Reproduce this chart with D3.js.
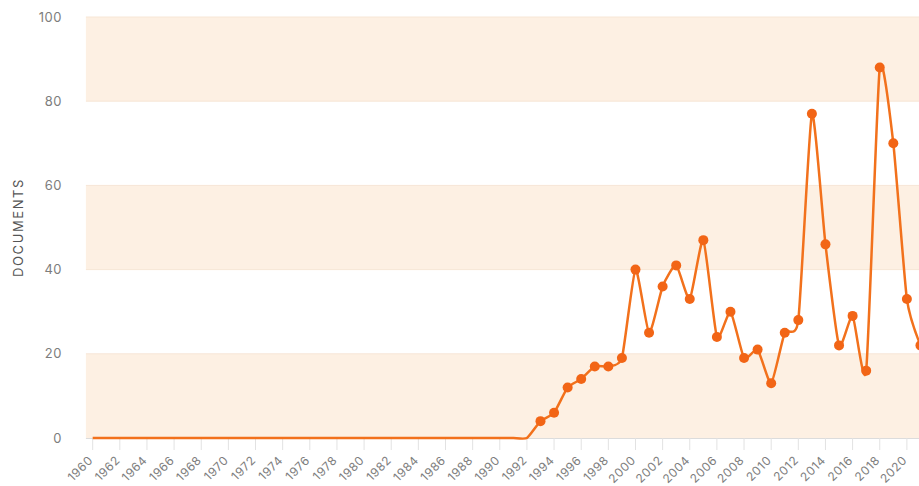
<!DOCTYPE html>
<html>
<head>
<meta charset="utf-8">
<script src="https://cdn.jsdelivr.net/npm/d3@7"></script>
<style>
  html, body { margin: 0; padding: 0; background: #fff; }
  svg { display: block; }
  text { font-family: "Inter", "Open Sans", sans-serif; }
</style>
</head>
<body>
<svg id="chart" width="919" height="486"></svg>
<script>
const years = d3.range(1960, 2022);
const documents = [
  0,0,0,0,0,0,0,0,0,0,      // 1960-1969
  0,0,0,0,0,0,0,0,0,0,      // 1970-1979
  0,0,0,0,0,0,0,0,0,0,      // 1980-1989
  0,0,0,4,6,12,14,17,17,19, // 1990-1999
  40,25,36,41,33,47,24,30,19,21, // 2000-2009
  13,25,28,77,46,22,29,16,88,70, // 2010-2019
  33,22                     // 2020-2021
];
const yTicks = [0, 20, 40, 60, 80, 100];
const xTickYears = d3.range(1960, 2022, 2);
const yLabel = "DOCUMENTS";

(function () {
const svg = d3.select("#chart");
const mLeft = 85.9, mTop = 17, mBottom = 438;
const step = 13.57;

const x = d3.scaleBand()
  .domain(years)
  .range([mLeft, mLeft + step * years.length])
  .paddingInner(0).paddingOuter(0);
const xc = d => x(d) + x.bandwidth() / 2;
const y = d3.scaleLinear().domain([0, 100]).range([mBottom, mTop]);
const plotRight = x.range()[1];

// bands
const bands = [[0,20],[40,60],[80,100]];
svg.append("g").selectAll("rect").data(bands).join("rect")
  .attr("x", mLeft).attr("width", plotRight - mLeft)
  .attr("y", d => y(d[1])).attr("height", d => y(d[0]) - y(d[1]))
  .attr("fill", "#fdf0e3");

// grid lines
svg.append("g").selectAll("line").data(yTicks.slice(1)).join("line")
  .attr("x1", mLeft).attr("x2", plotRight)
  .attr("y1", d => y(d)).attr("y2", d => y(d))
  .attr("stroke", "#f7e6d6").attr("stroke-width", 1);

// y axis labels
const yAxis = d3.axisLeft(y).tickValues(yTicks).tickSize(0).tickPadding(0);
const gy = svg.append("g").attr("transform", `translate(62,0)`).call(yAxis);
gy.select(".domain").remove();
gy.selectAll("text").attr("font-size", 13).attr("fill", "#7d7d7d")
  .attr("letter-spacing", 0.5)
  .attr("font-family", "Inter, 'Open Sans', sans-serif");

// x axis
const xAxis = d3.axisBottom(x).tickValues(xTickYears).tickSize(12).tickPadding(2);
const gx = svg.append("g").attr("transform", `translate(0,${mBottom})`).call(xAxis);
gx.select(".domain").attr("stroke", "#dcdcdc").attr("d", `M${mLeft},0.5H${plotRight}`);
gx.selectAll(".tick line").attr("stroke", "#e2e2e2");
gx.selectAll("text")
  .attr("font-size", 12).attr("fill", "#7d7d7d")
  .attr("letter-spacing", 0.6)
  .attr("font-family", "Inter, 'Open Sans', sans-serif")
  .attr("text-anchor", "end")
  .attr("dy", null)
  .attr("y", 0)
  .attr("transform", "translate(1,23) rotate(-45)");

// y label
svg.append("text")
  .attr("transform", `translate(23,${(mTop + mBottom) / 2}) rotate(-90)`)
  .attr("text-anchor", "middle")
  .attr("font-size", 13).attr("fill", "#555")
  .attr("letter-spacing", 1.6)
  .text(yLabel);

// line
const data = years.map((yr, i) => ({ yr, v: documents[i] }));
const line = d3.line().x(d => xc(d.yr)).y(d => y(d.v)).curve(d3.curveCardinal.tension(0.45));
svg.append("path").datum(data)
  .attr("d", line)
  .attr("fill", "none")
  .attr("stroke", "#f2711c")
  .attr("stroke-width", 2.5);

// markers (only non-zero)
svg.append("g").selectAll("circle").data(data.filter(d => d.v > 0)).join("circle")
  .attr("cx", d => xc(d.yr)).attr("cy", d => y(d.v))
  .attr("r", 5).attr("fill", "#f26516");
})();
</script>
</body>
</html>
